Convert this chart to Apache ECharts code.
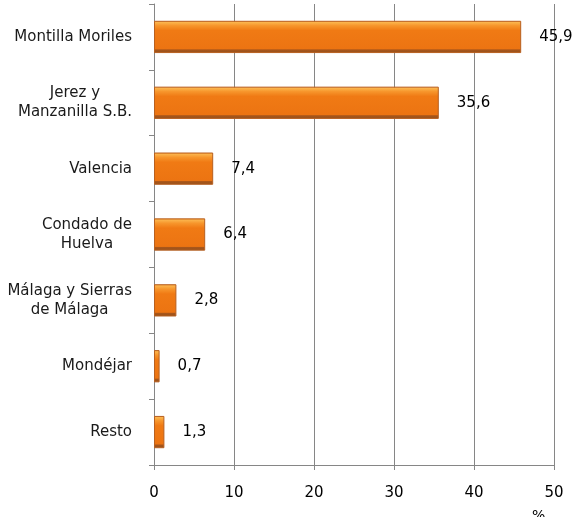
<!DOCTYPE html>
<html><head><meta charset="utf-8">
<script src="https://cdn.jsdelivr.net/npm/echarts@6/dist/echarts.min.js"></script>
<style>html,body{margin:0;padding:0;background:#fff}#c{width:574px;height:517px}</style>
</head><body><div id="c"></div>
<script>
const categories = ["Montilla Moriles", "Jerez y\nManzanilla S.B.", "Valencia", "Condado de\nHuelva", "Málaga y Sierras\nde Málaga", "Mondéjar", "Resto"];
const values = [45.9, 35.6, 7.4, 6.4, 2.8, 0.7, 1.3];
const xTicks = [0, 10, 20, 30, 40, 50];
const axisTitle = "%";

const font = "DejaVu Sans";
const chart = echarts.init(document.getElementById('c'));
chart.setOption({
  animation: false,
  grid: { left: 154, right: 20, top: 4, bottom: 52 },
  xAxis: {
    type: 'value', min: xTicks[0], max: xTicks[xTicks.length - 1], interval: 10,
    axisLine: { show: true, lineStyle: { color: '#868686', width: 1 } },
    axisTick: { show: true, length: 5, lineStyle: { color: '#868686' } },
    splitLine: { show: true, lineStyle: { color: '#868686', width: 1 } },
    axisLabel: { color: '#000', fontFamily: font, fontSize: 15, margin: 21 }
  },
  yAxis: {
    type: 'category', data: categories.slice().reverse(),
    axisLine: { show: true, lineStyle: { color: '#868686', width: 1 } },
    axisTick: { show: true, length: 5, lineStyle: { color: '#868686' } },
    axisLabel: {
      color: '#000', fontFamily: font, fontSize: 15, margin: 22, lineHeight: 19,
      formatter: function (v) { return v.split('\n').map(s => '{c|' + s + '}').join('\n'); },
      rich: { c: { align: 'center', fontFamily: font, fontSize: 15, lineHeight: 19, color: '#1a1a1a' } }
    }
  },
  graphic: [{ type: 'text', left: 532, top: 509, style: { text: axisTitle, font: '14px ' + font, fill: '#000' } }],
  series: [{
    type: 'bar', data: values.slice().reverse(), barWidth: '49%',
    itemStyle: {
      color: new echarts.graphic.LinearGradient(0, 0, 0, 1, [
        { offset: 0, color: '#f28a24' },
        { offset: 0.05, color: '#fbb44c' },
        { offset: 0.15, color: '#f7962c' },
        { offset: 0.3, color: '#f07a14' },
        { offset: 0.87, color: '#ec7412' },
        { offset: 0.9, color: '#a9561a' },
        { offset: 1, color: '#94501c' }
      ]),
      borderColor: '#b86020', borderWidth: 1
    },
    label: {
      show: true, position: 'right', distance: 18, color: '#000', fontFamily: font, fontSize: 15,
      formatter: p => p.value.toFixed(1).replace('.', ',')
    }
  }]
});
</script></body></html>
